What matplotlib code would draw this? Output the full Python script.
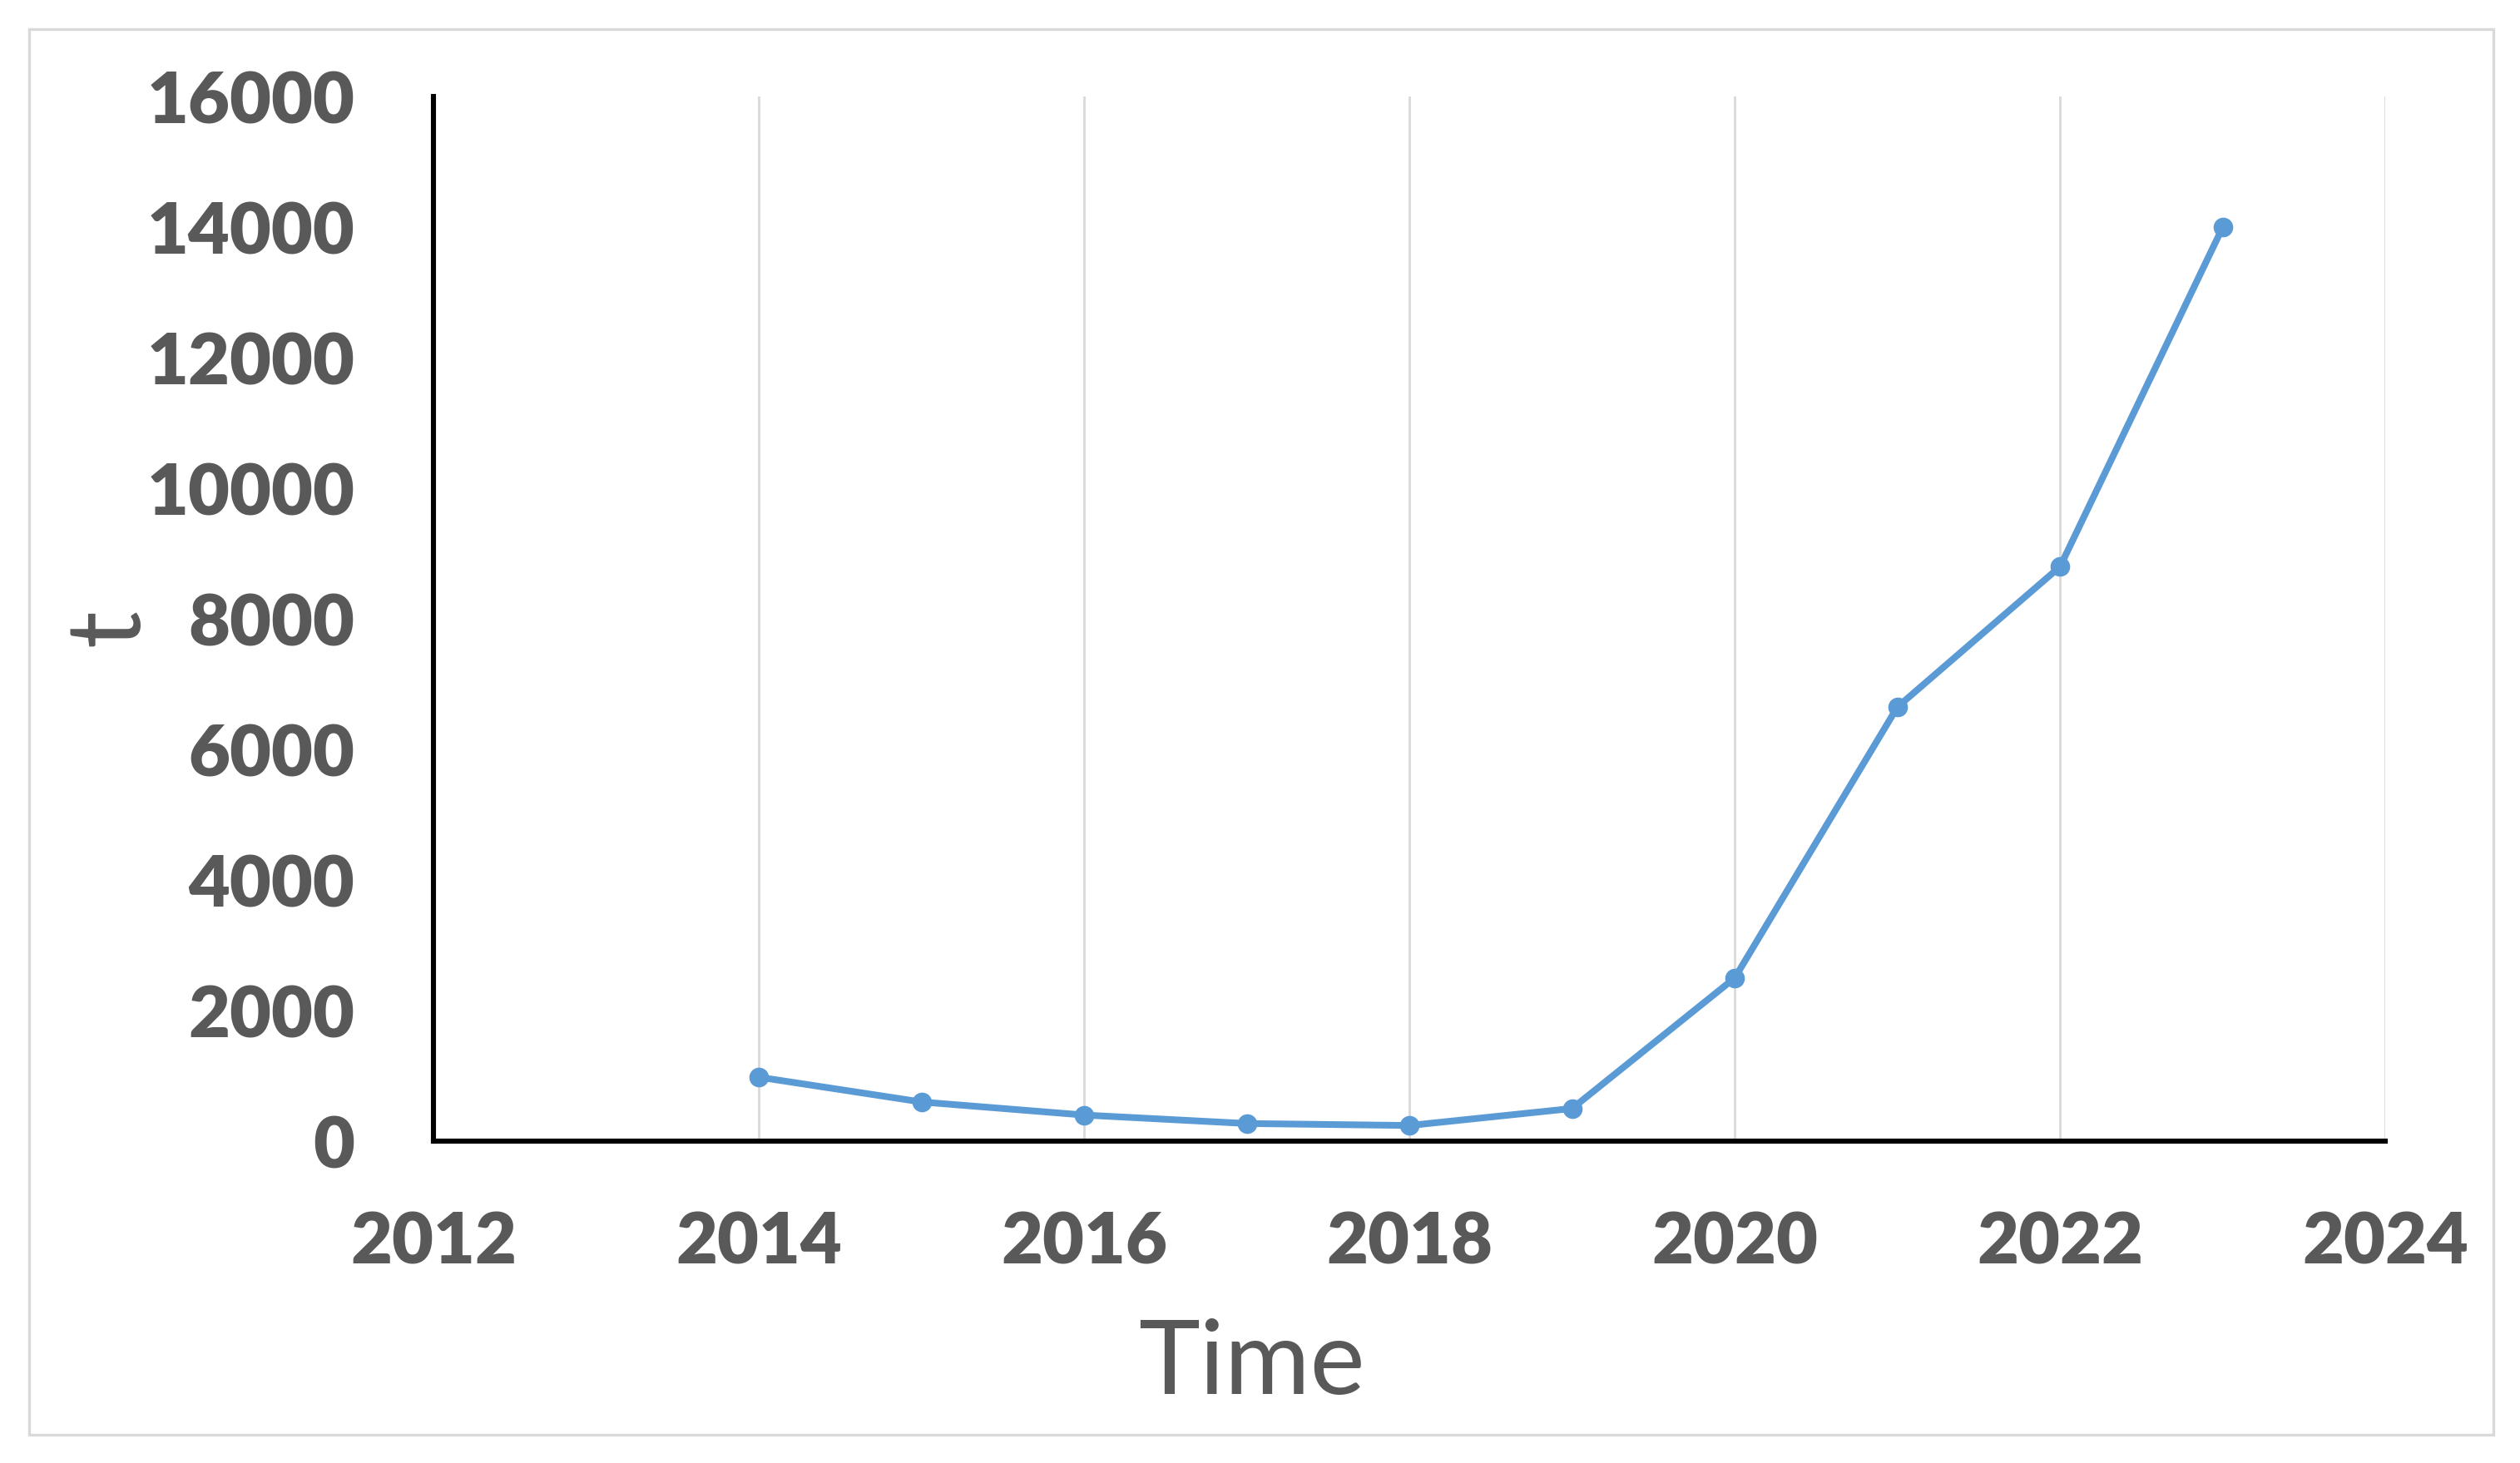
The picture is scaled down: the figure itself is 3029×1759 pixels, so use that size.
import matplotlib
matplotlib.use("Agg")
import matplotlib.pyplot as plt
from matplotlib.patches import Rectangle

# ===============================
# Data
# ===============================
years = [2014, 2015, 2016, 2017, 2018, 2019, 2020, 2021, 2022, 2023]
values = [980, 600, 400, 270, 240, 500, 2500, 6650, 8800, 14000]

x_ticks = [2012, 2014, 2016, 2018, 2020, 2022, 2024]
y_ticks = [0, 2000, 4000, 6000, 8000, 10000, 12000, 14000, 16000]

LINE_BLUE = "#5B9BD5"
TEXT_GRAY = "#595959"
GRID_GRAY = "#D9D9D9"

plt.rcParams["font.family"] = ["Lato", "DejaVu Sans"]

fig = plt.figure(figsize=(15.145, 8.795), dpi=200)
ax = fig.add_axes([0.172, 0.22, 0.7746, 0.714])

# outer chart border
fig.patches.append(Rectangle((0.0116, 0.0193), 0.9778, 0.9607, transform=fig.transFigure,
                             fill=False, edgecolor=GRID_GRAY, linewidth=1.2))

ax.plot(years, values, color=LINE_BLUE, linewidth=2.9, marker="o",
        markersize=7.5, markerfacecolor=LINE_BLUE, markeredgecolor=LINE_BLUE, zorder=3)

ax.set_xlim(x_ticks[0], x_ticks[-1])
ax.set_ylim(y_ticks[0], y_ticks[-1])
ax.set_xticks(x_ticks)
ax.set_yticks(y_ticks)
ax.xaxis.grid(True, color=GRID_GRAY, linewidth=1.0)
ax.yaxis.grid(False)
ax.set_axisbelow(True)

for side in ["top", "right"]:
    ax.spines[side].set_visible(False)
for side in ["left", "bottom"]:
    ax.spines[side].set_color("black")
    ax.spines[side].set_linewidth(2.2)

ax.tick_params(axis="both", length=0, labelsize=31, labelcolor=TEXT_GRAY)
ax.tick_params(axis="x", pad=30)
ax.tick_params(axis="y", pad=34)
for lbl in ax.get_xticklabels() + ax.get_yticklabels():
    lbl.set_fontweight("heavy")

ax.set_xlabel("Time", fontsize=45, color=TEXT_GRAY, va="center")
ax.xaxis.set_label_coords(0.419, -0.214)
ax.set_ylabel("t", fontsize=45, color=TEXT_GRAY, va="center")
ax.yaxis.set_label_coords(-0.166, 0.492)

fig.savefig("out.png", dpi=200, facecolor="white")
